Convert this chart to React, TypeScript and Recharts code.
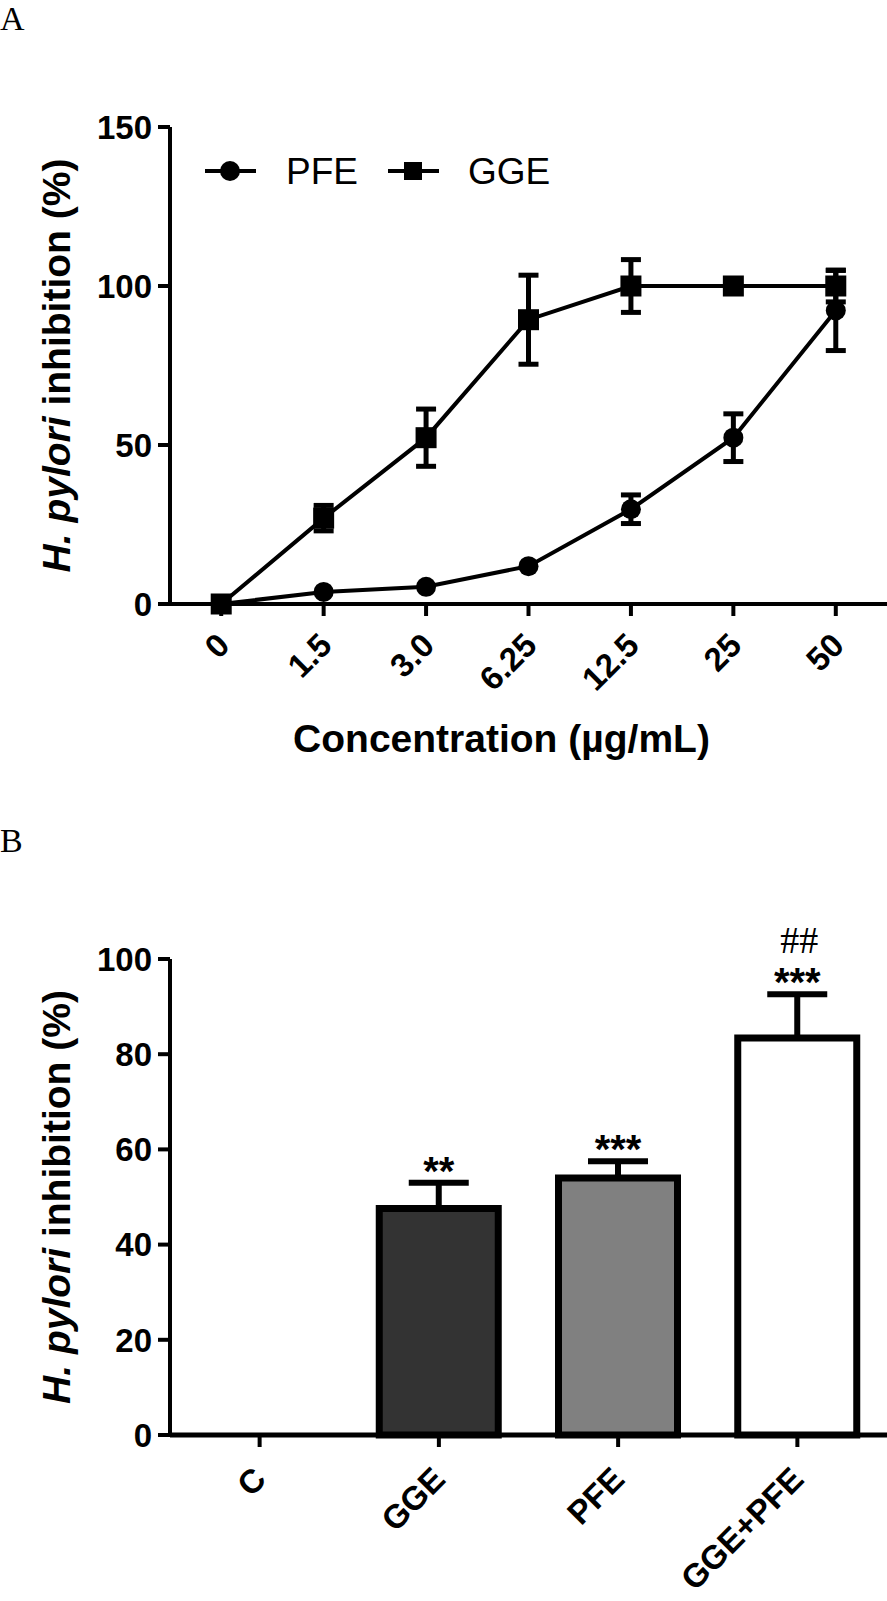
import React from 'react';
import { LineChart, Line, XAxis, YAxis, ErrorBar, BarChart, Bar, Cell, LabelList } from 'recharts';

// Panel A data
const concentrations = ['0', '1.5', '3.0', '6.25', '12.5', '25', '50'];
const pfeMean = [0, 3.8, 5.4, 11.9, 29.8, 52.3, 92.3];
const pfeSem = [0, 0, 0, 0, 4.5, 7.5, 12.6];
const ggeMean = [0, 27, 52.3, 89.4, 100, 100, 100];
const ggeSem = [0, 4, 9, 14, 8.3, 0, 5];
const yTicksA = [0, 50, 100, 150];

// Panel B data
const groups = ['C', 'GGE', 'PFE', 'GGE+PFE'];
const groupMean = [0, 47.6, 54, 83.4];
const groupSem = [0, 5.4, 3.5, 9.2];
const groupFill = ['#ffffff', '#333333', '#808080', '#ffffff'];
const groupStars = ['', '**', '***', '***'];
const groupHash = ['', '', '', '##'];
const yTicksB = [0, 20, 40, 60, 80, 100];

const FONT = '"Liberation Sans", Arial, Helvetica, sans-serif';
const SERIF = '"Liberation Serif", "Times New Roman", serif';
const TICK_FS = 33;
const TITLE_FS = 39;

const dataA = concentrations.map((c, i) => ({
  idx: i,
  label: c,
  pfe: pfeMean[i],
  pfeErr: pfeSem[i],
  gge: ggeMean[i],
  ggeErr: ggeSem[i],
}));

const dataB = groups.map((g, i) => ({
  name: g,
  mean: groupMean[i],
  err: [0, groupSem[i]],
}));

const makeRotTick = (labels: string[] | null, dx: number, dy: number, fs: number) => (props: any) => {
  const { x, y, payload } = props;
  const text = labels ? labels[payload.value] : payload.value;
  return (
    <g transform={`translate(${x + dx},${y + dy})`}>
      <text
        textAnchor="end"
        transform="rotate(-45)"
        dy="0.35em"
        fontFamily={FONT}
        fontWeight="bold"
        fontSize={fs}
        fill="#000"
      >
        {text}
      </text>
    </g>
  );
};

const YTitle = (props: any) => {
  const vb = props.viewBox || {};
  const cy = vb.y + vb.height / 2;
  const cx = props.cx;
  return (
    <text
      x={cx}
      y={cy}
      transform={`rotate(-90, ${cx}, ${cy})`}
      textAnchor="middle"
      fontFamily={FONT}
      fontWeight="bold"
      fontSize={TITLE_FS}
      fill="#000"
    >
      <tspan fontStyle="italic">H. pylori</tspan>
      <tspan> inhibition (%)</tspan>
    </text>
  );
};

const XTitle = (props: any) => {
  const vb = props.viewBox || {};
  const cx = vb.x + vb.width / 2 - 27;
  const by = vb.y + vb.height - 48;
  return (
    <text x={cx} y={by} textAnchor="middle" fontFamily={FONT} fontWeight="bold" fontSize={TITLE_FS} fill="#000">
      Concentration (µg/mL)
    </text>
  );
};

const SquareDot = (props: any) => {
  const { cx, cy } = props;
  if (cx == null || cy == null) return null;
  return <rect key={`sq-${props.index}`} x={cx - 10.5} y={cy - 10.5} width={21} height={21} fill="#000" />;
};

const CircleDot = (props: any) => {
  const { cx, cy } = props;
  if (cx == null || cy == null) return null;
  return <circle key={`ci-${props.index}`} cx={cx} cy={cy} r={10} fill="#000" />;
};

const Annot = (props: any) => {
  const { x, y, width, height, value } = props;
  const i = groups.indexOf(value);
  if (i < 0 || !groupMean[i]) return null;
  const perUnit = height / groupMean[i];
  const topY = y - groupSem[i] * perUnit;
  const cx = x + width / 2;
  return (
    <g>
      <text x={cx} y={topY + 2} textAnchor="middle" fontFamily={FONT} fontWeight="bold" fontSize={40} fill="#000">
        {groupStars[i]}
      </text>
      {groupHash[i] ? (
        <text x={cx + 2} y={topY - 41} textAnchor="middle" fontFamily={SERIF} fontSize={38} fill="#000">
          {groupHash[i]}
        </text>
      ) : null}
    </g>
  );
};

export default function App() {
  return (
    <div style={{ position: 'absolute', left: 0, top: 0, width: 887, height: 1601, background: '#fff' }}>
      <svg style={{ position: 'absolute', left: 0, top: 0 }} width={60} height={1601}>
        <text x={0} y={30} fontFamily={SERIF} fontSize={34} fill="#000">A</text>
        <text x={0} y={852} fontFamily={SERIF} fontSize={34} fill="#000">B</text>
      </svg>

      <div style={{ position: 'absolute', left: 0, top: 0 }}>
        <LineChart width={887} height={800} data={dataA} margin={{ top: 127, right: 0, bottom: 0, left: 70 }}>
          <XAxis
            dataKey="idx"
            type="number"
            domain={[-0.5, 6.5]}
            ticks={[0, 1, 2, 3, 4, 5, 6]}
            interval={0}
            height={196}
            axisLine={{ stroke: '#000', strokeWidth: 4 }}
            tickLine={{ stroke: '#000', strokeWidth: 4 }}
            tickSize={12}
            tickMargin={0}
            tick={makeRotTick(concentrations, 2, 23, TICK_FS)}
            label={<XTitle />}
          />
          <YAxis
            domain={[0, 150]}
            ticks={yTicksA}
            width={100}
            axisLine={{ stroke: '#000', strokeWidth: 4 }}
            tickLine={{ stroke: '#000', strokeWidth: 4 }}
            tickSize={12}
            tickMargin={6}
            tick={{ fontFamily: FONT, fontWeight: 'bold', fontSize: TICK_FS, fill: '#000' }}
            label={<YTitle cx={70} />}
          />
          <Line dataKey="pfe" stroke="#000" strokeWidth={4} dot={<CircleDot />} isAnimationActive={false}>
            <ErrorBar dataKey="pfeErr" direction="y" width={10} strokeWidth={5} stroke="#000" />
          </Line>
          <Line dataKey="gge" stroke="#000" strokeWidth={4} dot={<SquareDot />} isAnimationActive={false}>
            <ErrorBar dataKey="ggeErr" direction="y" width={10} strokeWidth={5} stroke="#000" />
          </Line>
        </LineChart>
      </div>

      {/* Legend for panel A */}
      <svg style={{ position: 'absolute', left: 0, top: 140 }} width={600} height={60}>
        <line x1={205} y1={31} x2={256} y2={31} stroke="#000" strokeWidth={4} />
        <circle cx={230} cy={31} r={10} fill="#000" />
        <text x={286} y={31} dy="0.35em" fontFamily={FONT} fontSize={37} fill="#000">PFE</text>
        <line x1={388} y1={31} x2={439} y2={31} stroke="#000" strokeWidth={4} />
        <rect x={404} y={22} width={18} height={18} fill="#000" />
        <text x={468} y={31} dy="0.35em" fontFamily={FONT} fontSize={37} fill="#000">GGE</text>
      </svg>

      <div style={{ position: 'absolute', left: 0, top: 800 }}>
        <BarChart width={887} height={801} data={dataB} margin={{ top: 159, right: 0, bottom: 0, left: 70 }} barSize={119}>
          <XAxis
            dataKey="name"
            height={166}
            interval={0}
            axisLine={{ stroke: '#000', strokeWidth: 5 }}
            tickLine={{ stroke: '#000', strokeWidth: 4 }}
            tickSize={12}
            tickMargin={0}
            tick={makeRotTick(null, 0, 26, 33)}
          />
          <YAxis
            domain={[0, 100]}
            ticks={yTicksB}
            width={100}
            axisLine={{ stroke: '#000', strokeWidth: 4 }}
            tickLine={{ stroke: '#000', strokeWidth: 4 }}
            tickSize={12}
            tickMargin={6}
            tick={{ fontFamily: FONT, fontWeight: 'bold', fontSize: TICK_FS, fill: '#000' }}
            label={<YTitle cx={70} />}
          />
          <Bar dataKey="mean" stroke="#000" strokeWidth={7} isAnimationActive={false}>
            {dataB.map((d, i) => (
              <Cell key={d.name} fill={groupFill[i]} />
            ))}
            <ErrorBar dataKey="err" direction="y" width={30} strokeWidth={6} stroke="#000" />
            <LabelList dataKey="name" content={<Annot />} />
          </Bar>
        </BarChart>
      </div>
    </div>
  );
}
